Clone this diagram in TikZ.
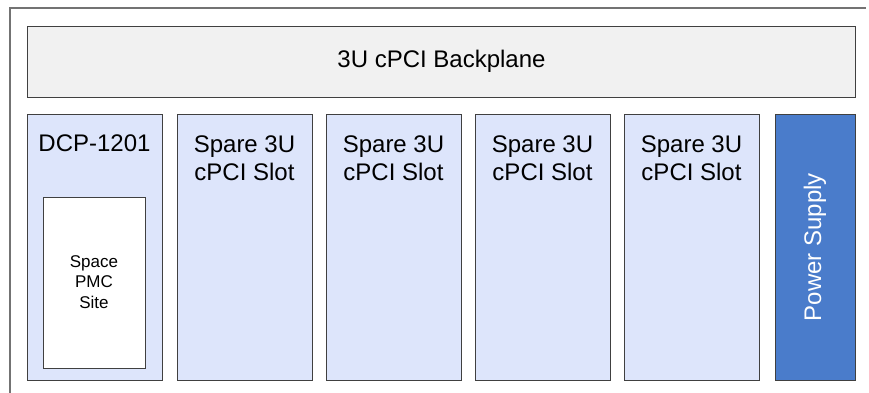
\documentclass[tikz,border=0pt]{standalone}
\usepackage{fontspec}
\setmainfont{Liberation Sans}
\begin{document}
\begin{tikzpicture}[x=1pt,y=-1pt,
  box/.style={draw=black!75, line width=0.8pt, inner sep=0pt, outer sep=0pt},
  slotbox/.style={box, fill=slotfill},
  lbl/.style={font=\fontsize{24}{28}\selectfont, align=center, inner sep=0pt, anchor=base},
  small/.style={font=\fontsize{17}{20.5}\selectfont, align=center, inner sep=0pt}]
\definecolor{slotfill}{HTML}{DDE5FB}
\definecolor{psfill}{HTML}{4A7CCB}
\definecolor{bpfill}{HTML}{F1F1F1}
\useasboundingbox (0,0) rectangle (869,393);
% outer frame (only top and left edges visible)
\coordinate (ftl) at (10,8);
\coordinate (ftr) at (866,8);
\coordinate (fbl) at (10,393);
\draw[draw=black!55, line width=1.3pt] (fbl) -- (ftl) -- (ftr);
% backplane
\draw[box, fill=bpfill] (27,26) rectangle (855,97);
\node[lbl] (bp) at (441.5,68) {3U cPCI Backplane};
% slots
\draw[slotbox] (27,114) rectangle (162,380);
\node[lbl] (dcp) at (94.5,151) {DCP-1201};
\draw[box, fill=white] (43,197) rectangle (145,368);
\node[small] (pmc) at (94,282) {Space\\PMC\\Site};
\foreach \xa/\nm in {177/s2,326/s3,475/s4,624/s5}{
  \draw[slotbox] (\xa,114) rectangle ++(135,266);
  \node[lbl] (\nm) at (\xa+67.5,180) {Spare 3U\\cPCI Slot};
}
\draw[box, fill=psfill] (775,114) rectangle (855,380);
\node[font=\fontsize{24}{28}\selectfont, text=white, rotate=90, inner sep=0pt] (ps) at (815,247) {Power Supply};
\end{tikzpicture}
\end{document}
